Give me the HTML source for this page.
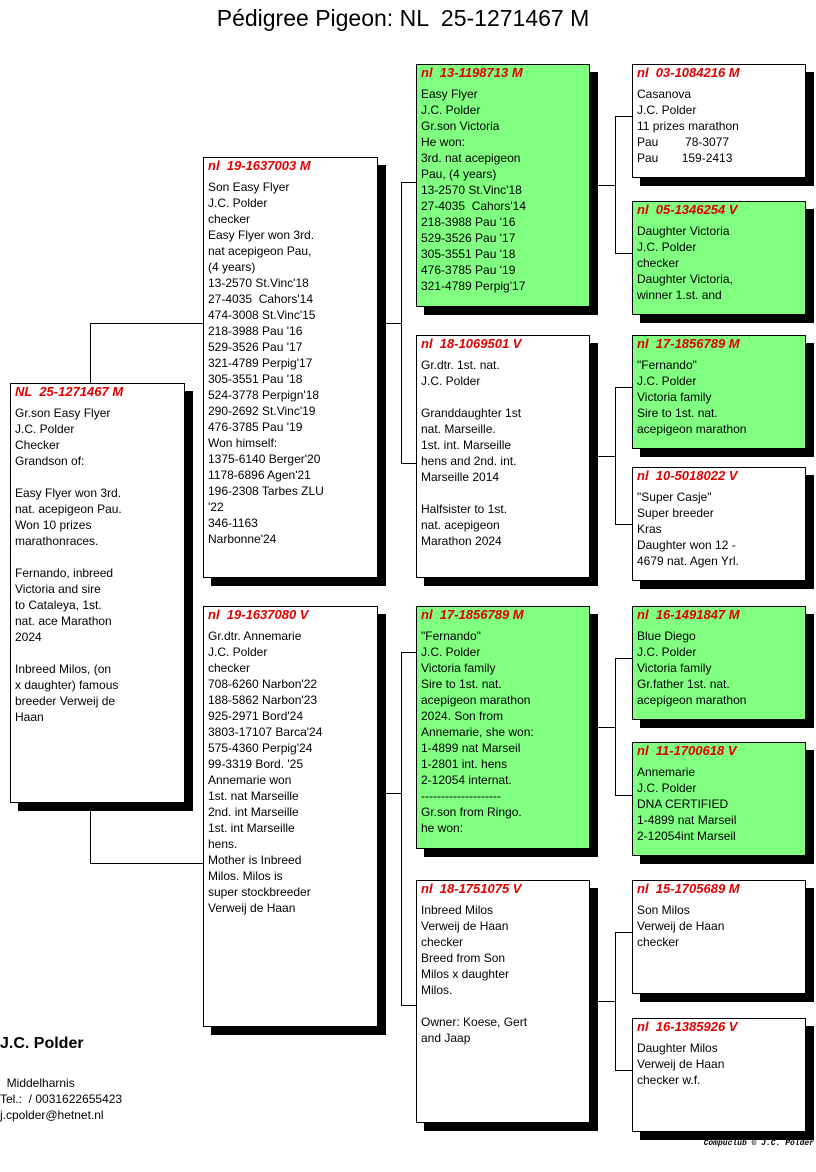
<!DOCTYPE html>
<html><head><meta charset="utf-8"><style>
body{margin:0;width:816px;height:1172px;background:#fff;position:relative;font-family:"Liberation Sans",Arial,sans-serif;overflow:hidden}
.b{position:absolute;border:1px solid #000;background:#fff;box-shadow:8px 8px 0 #000;box-sizing:border-box;padding:0 4px;font-size:12px;color:#000}
.g{background:#80ff80}
.h{color:#e00000;font-weight:bold;font-style:italic;font-size:13px;line-height:16px;height:18px;white-space:pre}
.t{line-height:16px;white-space:pre;margin-top:3px}
.l{position:absolute;background:#000}
</style></head><body>
<div style="position:absolute;left:0;width:806px;top:3px;text-align:center;font-size:23px;line-height:30px;white-space:pre">Pédigree Pigeon: NL  25-1271467 M</div>

<!-- connectors -->
<div class="l" style="left:90px;top:323px;width:1px;height:60px"></div>
<div class="l" style="left:90px;top:802px;width:1px;height:61px"></div>
<div class="l" style="left:90px;top:323px;width:113px;height:1px"></div>
<div class="l" style="left:90px;top:863px;width:113px;height:1px"></div>

<div class="l" style="left:384px;top:323px;width:17px;height:1px"></div>
<div class="l" style="left:401px;top:182px;width:1px;height:282px"></div>
<div class="l" style="left:401px;top:182px;width:15px;height:1px"></div>
<div class="l" style="left:401px;top:463px;width:15px;height:1px"></div>

<div class="l" style="left:384px;top:793px;width:17px;height:1px"></div>
<div class="l" style="left:401px;top:652px;width:1px;height:353px"></div>
<div class="l" style="left:401px;top:652px;width:15px;height:1px"></div>
<div class="l" style="left:401px;top:1005px;width:15px;height:1px"></div>

<div class="l" style="left:597px;top:185px;width:18px;height:1px"></div>
<div class="l" style="left:615px;top:116px;width:1px;height:137px"></div>
<div class="l" style="left:615px;top:116px;width:17px;height:1px"></div>
<div class="l" style="left:615px;top:253px;width:17px;height:1px"></div>

<div class="l" style="left:597px;top:456px;width:18px;height:1px"></div>
<div class="l" style="left:615px;top:387px;width:1px;height:137px"></div>
<div class="l" style="left:615px;top:387px;width:17px;height:1px"></div>
<div class="l" style="left:615px;top:524px;width:17px;height:1px"></div>

<div class="l" style="left:597px;top:727px;width:18px;height:1px"></div>
<div class="l" style="left:615px;top:658px;width:1px;height:137px"></div>
<div class="l" style="left:615px;top:658px;width:17px;height:1px"></div>
<div class="l" style="left:615px;top:795px;width:17px;height:1px"></div>

<div class="l" style="left:597px;top:1001px;width:18px;height:1px"></div>
<div class="l" style="left:615px;top:932px;width:1px;height:138px"></div>
<div class="l" style="left:615px;top:932px;width:17px;height:1px"></div>
<div class="l" style="left:615px;top:1070px;width:17px;height:1px"></div>

<!-- gen1 -->
<div class="b" style="left:10px;top:383px;width:175px;height:420px"><div class="h">NL  25-1271467 M</div><div class="t">Gr.son Easy Flyer
J.C. Polder
Checker
Grandson of:

Easy Flyer won 3rd.
nat. acepigeon Pau.
Won 10 prizes
marathonraces.

Fernando, inbreed
Victoria and sire
to Cataleya, 1st.
nat. ace Marathon
2024

Inbreed Milos, (on
x daughter) famous
breeder Verweij de
Haan</div></div>

<!-- gen2 -->
<div class="b" style="left:203px;top:157px;width:175px;height:421px"><div class="h">nl  19-1637003 M</div><div class="t">Son Easy Flyer
J.C. Polder
checker
Easy Flyer won 3rd.
nat acepigeon Pau,
(4 years)
13-2570 St.Vinc'18
27-4035  Cahors'14
474-3008 St.Vinc'15
218-3988 Pau '16
529-3526 Pau '17
321-4789 Perpig'17
305-3551 Pau '18
524-3778 Perpign'18
290-2692 St.Vinc'19
476-3785 Pau '19
Won himself:
1375-6140 Berger'20
1178-6896 Agen'21
196-2308 Tarbes ZLU
'22
346-1163
Narbonne'24</div></div>

<div class="b" style="left:203px;top:606px;width:175px;height:421px"><div class="h">nl  19-1637080 V</div><div class="t">Gr.dtr. Annemarie
J.C. Polder
checker
708-6260 Narbon'22
188-5862 Narbon'23
925-2971 Bord'24
3803-17107 Barca'24
575-4360 Perpig'24
99-3319 Bord. '25
Annemarie won
1st. nat Marseille
2nd. int Marseille
1st. int Marseille
hens.
Mother is Inbreed
Milos. Milos is
super stockbreeder
Verweij de Haan</div></div>

<!-- gen3 -->
<div class="b g" style="left:416px;top:64px;width:174px;height:243px"><div class="h">nl  13-1198713 M</div><div class="t">Easy Flyer
J.C. Polder
Gr.son Victoria
He won:
3rd. nat acepigeon
Pau, (4 years)
13-2570 St.Vinc'18
27-4035  Cahors'14
218-3988 Pau '16
529-3526 Pau '17
305-3551 Pau '18
476-3785 Pau '19
321-4789 Perpig'17</div></div>

<div class="b" style="left:416px;top:335px;width:174px;height:243px"><div class="h">nl  18-1069501 V</div><div class="t">Gr.dtr. 1st. nat.
J.C. Polder

Granddaughter 1st
nat. Marseille.
1st. int. Marseille
hens and 2nd. int.
Marseille 2014

Halfsister to 1st.
nat. acepigeon
Marathon 2024</div></div>

<div class="b g" style="left:416px;top:606px;width:174px;height:243px"><div class="h">nl  17-1856789 M</div><div class="t">"Fernando"
J.C. Polder
Victoria family
Sire to 1st. nat.
acepigeon marathon
2024. Son from
Annemarie, she won:
1-4899 nat Marseil
1-2801 int. hens
2-12054 internat.
--------------------
Gr.son from Ringo.
he won:</div></div>

<div class="b" style="left:416px;top:880px;width:174px;height:243px"><div class="h">nl  18-1751075 V</div><div class="t">Inbreed Milos
Verweij de Haan
checker
Breed from Son
Milos x daughter
Milos.

Owner: Koese, Gert
and Jaap</div></div>

<!-- gen4 -->
<div class="b" style="left:632px;top:64px;width:174px;height:114px"><div class="h">nl  03-1084216 M</div><div class="t">Casanova
J.C. Polder
11 prizes marathon
Pau        78-3077
Pau       159-2413</div></div>
<div class="b g" style="left:632px;top:201px;width:174px;height:114px"><div class="h">nl  05-1346254 V</div><div class="t">Daughter Victoria
J.C. Polder
checker
Daughter Victoria,
winner 1.st. and</div></div>
<div class="b g" style="left:632px;top:335px;width:174px;height:114px"><div class="h">nl  17-1856789 M</div><div class="t">"Fernando"
J.C. Polder
Victoria family
Sire to 1st. nat.
acepigeon marathon</div></div>
<div class="b" style="left:632px;top:467px;width:174px;height:114px"><div class="h">nl  10-5018022 V</div><div class="t">"Super Casje"
Super breeder
Kras
Daughter won 12 -
4679 nat. Agen Yrl.</div></div>
<div class="b g" style="left:632px;top:606px;width:174px;height:114px"><div class="h">nl  16-1491847 M</div><div class="t">Blue Diego
J.C. Polder
Victoria family
Gr.father 1st. nat.
acepigeon marathon</div></div>
<div class="b g" style="left:632px;top:742px;width:174px;height:114px"><div class="h">nl  11-1700618 V</div><div class="t">Annemarie
J.C. Polder
DNA CERTIFIED
1-4899 nat Marseil
2-12054int Marseil</div></div>
<div class="b" style="left:632px;top:880px;width:174px;height:114px"><div class="h">nl  15-1705689 M</div><div class="t">Son Milos
Verweij de Haan
checker</div></div>
<div class="b" style="left:632px;top:1018px;width:174px;height:114px"><div class="h">nl  16-1385926 V</div><div class="t">Daughter Milos
Verweij de Haan
checker w.f.</div></div>

<!-- footer -->
<div style="position:absolute;left:0;top:1034px;font-size:16px;font-weight:bold;line-height:20px">J.C. Polder</div>
<div style="position:absolute;left:0;top:1075px;font-size:12px;line-height:16px;white-space:pre">  Middelharnis
Tel.:  / 0031622655423
j.cpolder@hetnet.nl</div>
<div style="position:absolute;right:2px;top:1139px;font-family:'Liberation Mono',monospace;font-size:8px;font-style:italic;font-weight:bold">Compuclub © J.C. Polder</div>
</body></html>
